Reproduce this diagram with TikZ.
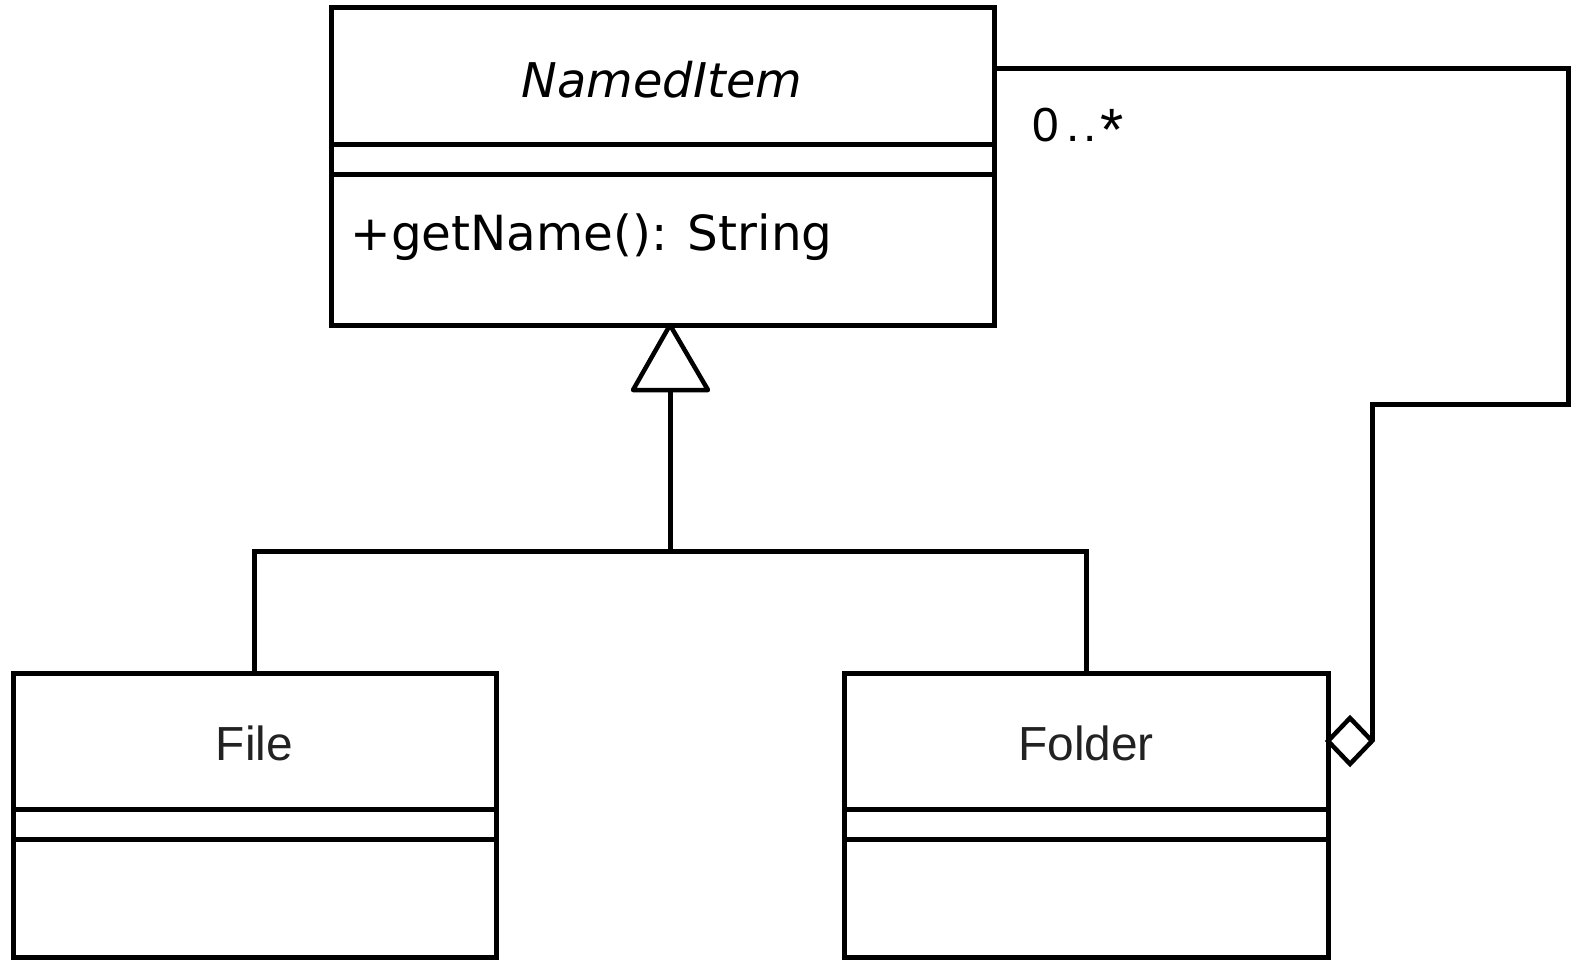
\documentclass[tikz,border=0pt]{standalone}
\usepackage{fontspec}
\setmainfont{Liberation Sans}
\newfontfamily\umlfont{DejaVu Sans}
\definecolor{labelgray}{HTML}{222222}
\begin{document}
\begin{tikzpicture}[x=1bp, y=-1bp, line width=5bp, line join=miter,
  classbox/.style={draw, rectangle, inner sep=0pt, outer sep=0pt, anchor=north west},
  bigtext/.style={inner sep=0pt, font=\fontsize{48}{58}\selectfont},
  umltext/.style={inner sep=0pt, font=\umlfont\fontsize{48.6}{58}\selectfont},
  hollow/.style={draw, fill=white, line width=4.5bp}]
\useasboundingbox (0,0) rectangle (1579,960);

% Abstract class NamedItem
\node[classbox, minimum width=663bp, minimum height=318bp] (named) at (331,7) {};
\draw (named.west |- 0,144) -- (named.east |- 0,144);
\draw (named.west |- 0,174) -- (named.east |- 0,174);
\node[umltext, anchor=base, font=\umlfont\itshape\fontsize{48}{58}\selectfont] (namedT) at (662,97) {NamedItem};
\node[umltext, anchor=base west] (namedOp) at (348,250) {+getName(): String};

% Class File
\node[classbox, minimum width=483bp, minimum height=284bp] (file) at (13,673) {};
\draw (file.west |- 0,809) -- (file.east |- 0,809);
\draw (file.west |- 0,839) -- (file.east |- 0,839);
\node[bigtext, anchor=base, text=labelgray] (fileT) at (file.north |- 0,760) {File};

% Class Folder
\node[classbox, minimum width=484bp, minimum height=284bp] (folder) at (844,673) {};
\draw (folder.west |- 0,809) -- (folder.east |- 0,809);
\draw (folder.west |- 0,839) -- (folder.east |- 0,839);
\node[bigtext, anchor=base, text=labelgray] (folderT) at (folder.north |- 0,760) {Folder};

% Generalization: File and Folder extend NamedItem
\coordinate (apex) at (670,325);
\coordinate (tribase) at (670,390);
\coordinate (junction) at (670,551);
\draw (tribase) -- (junction);
\draw (file.north) |- (junction) -| (folder.north);
\draw[hollow, line join=round] (apex) -- (633,390) -- (708,390) -- cycle;

% Aggregation: Folder holds 0..* NamedItems
\coordinate (aggstart) at (named.east |- 0,68);
\coordinate (diamR) at (1372,741);
\draw (aggstart) -- (1568,68) -- (1568,404) -- (1372,404) -- (diamR);
\draw[hollow] (folder.east |- diamR) -- (1350,718) -- (diamR) -- (1350,764) -- cycle;
\node[bigtext, anchor=base west] (mult) at (1030,141)
  {0\kern7bp.\kern4.5bp.\kern3bp\raisebox{-9bp}{\fontsize{60}{60}\selectfont *}};
\end{tikzpicture}
\end{document}
